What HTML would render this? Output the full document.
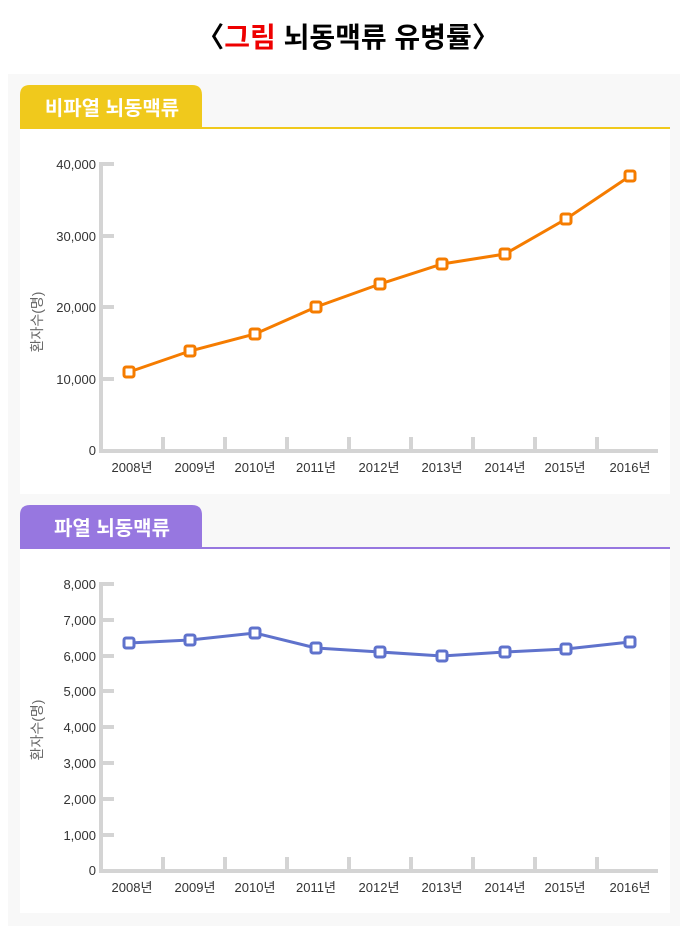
<!DOCTYPE html>
<html><head><meta charset="utf-8"><style>
body{margin:0;background:#fff;width:690px;height:935px;overflow:hidden;font-family:"Liberation Sans","Noto Sans CJK KR",sans-serif}
</style></head><body>
<svg width="690" height="935" xmlns="http://www.w3.org/2000/svg" font-family="Liberation Sans, Noto Sans CJK KR, sans-serif">
<text x="348" y="47" text-anchor="middle" font-size="28" font-weight="bold" fill="#000">〈<tspan fill="#ee0000">그림</tspan> 뇌동맥류 유병률〉</text>
<rect x="8" y="74" width="672" height="852" fill="#f8f8f8"/>
<!-- panel 1 -->
<path d="M20,127 V95 Q20,85 30,85 H192 Q202,85 202,95 V127 Z" fill="#f0c91c"/>
<text x="112" y="115" text-anchor="middle" font-size="20" font-weight="bold" fill="#fff">비파열 뇌동맥류</text>
<rect x="20" y="127" width="650" height="2" fill="#f0c91c"/>
<rect x="20" y="129" width="650" height="365" fill="#fff"/>
<g stroke="#d4d4d4" stroke-width="4" fill="none">
<path d="M101,162 V451 H658"/>
<path d="M101,164 H114 M101,236 H114 M101,307 H114 M101,379 H114"/>
<path d="M163,449 V437 M225,449 V437 M287,449 V437 M349,449 V437 M411,449 V437 M473,449 V437 M535,449 V437 M597,449 V437"/>
</g>
<g font-size="13" fill="#333" text-anchor="end">
<text x="96" y="169">40,000</text><text x="96" y="241">30,000</text><text x="96" y="312">20,000</text><text x="96" y="384">10,000</text><text x="96" y="455">0</text>
</g>
<text transform="translate(42,322) rotate(-90)" text-anchor="middle" font-size="14" fill="#666">환자수(명)</text>
<g font-size="13" fill="#333" text-anchor="middle">
<text x="132" y="472">2008년</text><text x="195" y="472">2009년</text><text x="255" y="472">2010년</text><text x="316" y="472">2011년</text><text x="379" y="472">2012년</text><text x="442" y="472">2013년</text><text x="505" y="472">2014년</text><text x="565" y="472">2015년</text><text x="630" y="472">2016년</text>
</g>
<polyline points="129,372 190,351 255,334 316,307 380,284 442,264 505,254 566,219 630,176" fill="none" stroke="#f57c00" stroke-width="3"/>
<g fill="#fff" stroke="#f57c00" stroke-width="3">
<rect x="124" y="367" width="10" height="10" rx="2"/><rect x="185" y="346" width="10" height="10" rx="2"/><rect x="250" y="329" width="10" height="10" rx="2"/><rect x="311" y="302" width="10" height="10" rx="2"/><rect x="375" y="279" width="10" height="10" rx="2"/><rect x="437" y="259" width="10" height="10" rx="2"/><rect x="500" y="249" width="10" height="10" rx="2"/><rect x="561" y="214" width="10" height="10" rx="2"/><rect x="625" y="171" width="10" height="10" rx="2"/>
</g>
<!-- panel 2 -->
<path d="M20,547 V515 Q20,505 30,505 H192 Q202,505 202,515 V547 Z" fill="#9777e0"/>
<text x="112" y="535" text-anchor="middle" font-size="20" font-weight="bold" fill="#fff">파열 뇌동맥류</text>
<rect x="20" y="547" width="650" height="2" fill="#9777e0"/>
<rect x="20" y="549" width="650" height="364" fill="#fff"/>
<g stroke="#d4d4d4" stroke-width="4" fill="none">
<path d="M101,582 V871 H658"/>
<path d="M101,584 H114 M101,620 H114 M101,656 H114 M101,691 H114 M101,727 H114 M101,763 H114 M101,799 H114 M101,835 H114"/>
<path d="M163,869 V857 M225,869 V857 M287,869 V857 M349,869 V857 M411,869 V857 M473,869 V857 M535,869 V857 M597,869 V857"/>
</g>
<g font-size="13" fill="#333" text-anchor="end">
<text x="96" y="589">8,000</text><text x="96" y="625">7,000</text><text x="96" y="661">6,000</text><text x="96" y="696">5,000</text><text x="96" y="732">4,000</text><text x="96" y="768">3,000</text><text x="96" y="804">2,000</text><text x="96" y="840">1,000</text><text x="96" y="875">0</text>
</g>
<text transform="translate(42,730) rotate(-90)" text-anchor="middle" font-size="14" fill="#666">환자수(명)</text>
<g font-size="13" fill="#333" text-anchor="middle">
<text x="132" y="892">2008년</text><text x="195" y="892">2009년</text><text x="255" y="892">2010년</text><text x="316" y="892">2011년</text><text x="379" y="892">2012년</text><text x="442" y="892">2013년</text><text x="505" y="892">2014년</text><text x="565" y="892">2015년</text><text x="630" y="892">2016년</text>
</g>
<polyline points="129,643 190,640 255,633 316,648 380,652 442,656 505,652 566,649 630,642" fill="none" stroke="#5f72cc" stroke-width="3"/>
<g fill="#fff" stroke="#5f72cc" stroke-width="3">
<rect x="124" y="638" width="10" height="10" rx="2"/><rect x="185" y="635" width="10" height="10" rx="2"/><rect x="250" y="628" width="10" height="10" rx="2"/><rect x="311" y="643" width="10" height="10" rx="2"/><rect x="375" y="647" width="10" height="10" rx="2"/><rect x="437" y="651" width="10" height="10" rx="2"/><rect x="500" y="647" width="10" height="10" rx="2"/><rect x="561" y="644" width="10" height="10" rx="2"/><rect x="625" y="637" width="10" height="10" rx="2"/>
</g>
</svg>
</body></html>
